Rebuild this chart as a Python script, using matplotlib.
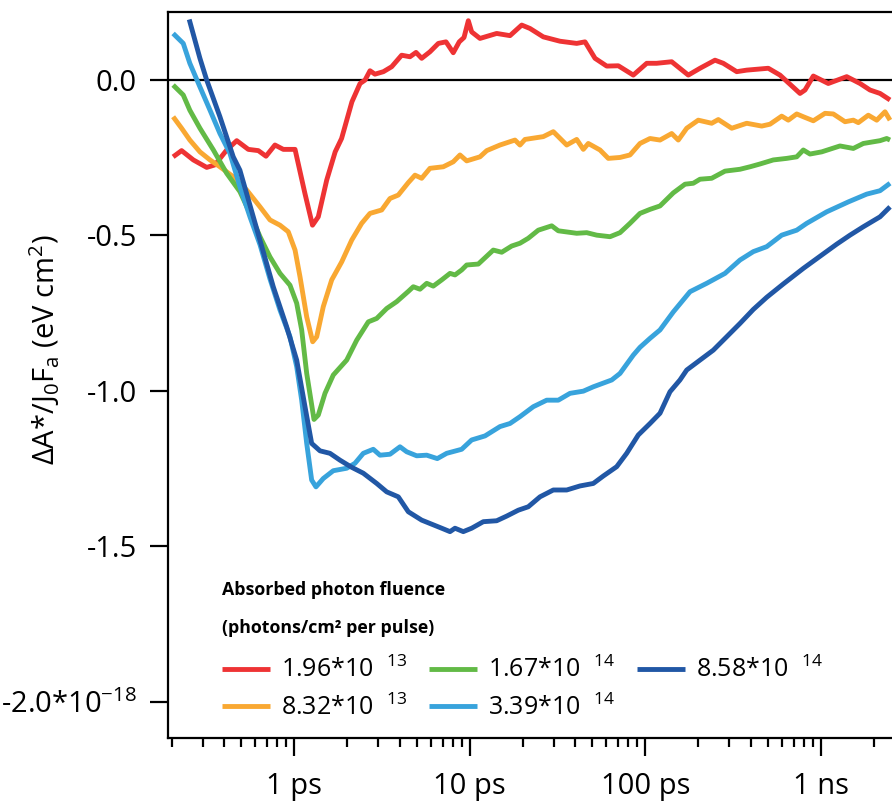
import matplotlib
matplotlib.use('Agg')
import matplotlib.pyplot as plt
from matplotlib.ticker import FixedLocator, NullFormatter

plt.rcParams['font.family'] = ['Open Sans', 'DejaVu Sans']
plt.rcParams['mathtext.fontset'] = 'custom'
plt.rcParams['mathtext.rm'] = 'Open Sans'
plt.rcParams['mathtext.it'] = 'Open Sans:italic'
plt.rcParams['mathtext.bf'] = 'Open Sans:bold'

# ---------------- data (time in ps, signal in units of 1e-18 eV cm^2) --------------
t_red = [0.204, 0.228, 0.266, 0.317, 0.353, 0.412, 0.470, 0.547, 0.624, 0.690, 0.776, 0.866,
         1.01, 1.15, 1.27, 1.37, 1.53, 1.71, 1.86, 2.13, 2.37, 2.53, 2.70, 2.88, 3.22, 3.59,
         4.09, 4.56, 4.94, 5.32, 5.93, 6.62, 7.32, 8.05, 8.71, 9.27, 9.81, 10.25, 11.43, 14.23,
         16.95, 19.76, 22.03, 26.23, 32.66, 40.65, 45.35, 51.70, 60.28, 70.20, 85.43, 101.9,
         116.1, 141.4, 175.8, 205.0, 249.6, 278.2, 331.8, 378.4, 502.3, 585.5, 761.2, 812.8,
         906.6, 1103, 1405, 1673, 1907, 2175, 2480]
v_red = [-0.247, -0.227, -0.257, -0.281, -0.273, -0.225, -0.195, -0.223, -0.227, -0.245, -0.209, -0.223,
         -0.223, -0.365, -0.467, -0.440, -0.322, -0.231, -0.188, -0.070, -0.011, 0.000, 0.030, 0.019, 0.027, 0.043,
         0.080, 0.075, 0.089, 0.070, 0.091, 0.118, 0.123, 0.088, 0.123, 0.137, 0.191, 0.155, 0.134, 0.150,
         0.143, 0.177, 0.166, 0.139, 0.125, 0.118, 0.123, 0.070, 0.045, 0.046, 0.016, 0.054,
         0.054, 0.059, 0.016, 0.038, 0.064, 0.054, 0.027, 0.032, 0.038, 0.016, -0.043, -0.032,
         0.013, -0.011, 0.011, -0.011, -0.032, -0.043, -0.064]

t_orange = [0.204, 0.228, 0.254, 0.290, 0.331, 0.377, 0.449, 0.536, 0.638, 0.727, 0.829, 0.924,
            1.01, 1.078, 1.177, 1.273, 1.342, 1.463, 1.634, 1.863, 2.124, 2.421, 2.70, 3.148,
            3.510, 3.914, 4.463, 4.873, 5.32, 5.93, 7.063, 8.05, 8.793, 9.602, 11.43, 12.49,
            14.86, 18.09, 19.32, 20.63, 26.23, 29.91, 35.67, 40.65, 44.35, 47.34, 55.21, 61.55,
            71.76, 81.80, 93.27, 106.4, 121.3, 141.4, 154.2, 172.2, 200.4, 238.9, 260.6, 310.8,
            378.4, 460.6, 513.5, 598.8, 652.9, 729.1, 795.0, 906.6, 1057, 1178, 1374, 1532,
            1636, 1865, 2083, 2322, 2480]
v_orange = [-0.118, -0.155, -0.193, -0.231, -0.257, -0.279, -0.311, -0.354, -0.408, -0.450, -0.467, -0.488,
            -0.547, -0.633, -0.762, -0.842, -0.826, -0.729, -0.643, -0.585, -0.515, -0.461, -0.429, -0.418,
            -0.381, -0.370, -0.330, -0.306, -0.316, -0.284, -0.279, -0.263, -0.241, -0.260, -0.247, -0.227,
            -0.209, -0.193, -0.209, -0.191, -0.182, -0.166, -0.209, -0.191, -0.223, -0.204, -0.225, -0.252,
            -0.249, -0.241, -0.204, -0.188, -0.193, -0.172, -0.193, -0.155, -0.129, -0.139, -0.127, -0.155,
            -0.139, -0.148, -0.142, -0.116, -0.129, -0.109, -0.118, -0.131, -0.107, -0.109, -0.134, -0.129,
            -0.137, -0.113, -0.129, -0.102, -0.129]

t_green = [0.204, 0.233, 0.254, 0.290, 0.346, 0.412, 0.490, 0.559, 0.638, 0.727, 0.829, 0.945,
           1.032, 1.102, 1.177, 1.295, 1.370, 1.496, 1.668, 1.989, 2.268, 2.641, 2.949, 3.362,
           3.832, 4.463, 4.766, 5.203, 5.682, 6.194, 6.918, 7.714, 8.236, 8.991, 9.602, 11.18,
           13.61, 15.20, 17.33, 19.32, 21.54, 24.57, 29.29, 31.94, 40.65, 46.37, 52.86, 62.96,
           71.76, 81.80, 93.27, 106.4, 121.3, 144.4, 168.4, 187.7, 205.0, 238.9, 284.5, 346.5,
           395.1, 450.4, 536.2, 639.2, 729.1, 795.0, 867.9, 1012, 1286, 1532, 1747, 2175, 2374, 2480]
v_green = [-0.016, -0.048, -0.097, -0.155, -0.225, -0.300, -0.359, -0.429, -0.504, -0.569, -0.622, -0.660,
           -0.718, -0.804, -0.944, -1.092, -1.078, -1.008, -0.949, -0.901, -0.837, -0.778, -0.767, -0.735,
           -0.713, -0.680, -0.665, -0.673, -0.654, -0.663, -0.643, -0.622, -0.627, -0.611, -0.595, -0.592,
           -0.547, -0.554, -0.534, -0.525, -0.509, -0.483, -0.469, -0.485, -0.493, -0.491, -0.499, -0.504,
           -0.491, -0.461, -0.429, -0.416, -0.405, -0.363, -0.335, -0.332, -0.319, -0.316, -0.293, -0.287,
           -0.279, -0.270, -0.257, -0.252, -0.247, -0.225, -0.238, -0.231, -0.212, -0.220, -0.204, -0.195, -0.188, -0.193]

t_lblue = [0.204, 0.233, 0.254, 0.290, 0.331, 0.377, 0.430, 0.490, 0.559, 0.638, 0.727, 0.829,
           0.945, 1.032, 1.102, 1.177, 1.256, 1.329, 1.463, 1.668, 1.989, 2.218, 2.473, 2.819,
           3.078, 3.510, 4.003, 4.370, 4.983, 5.682, 6.529, 7.386, 8.991, 10.25, 12.21, 14.86,
           16.95, 19.32, 23.01, 27.43, 31.94, 37.24, 44.35, 50.54, 64.38, 71.76, 85.43, 93.27,
           106.4, 121.3, 144.4, 179.8, 223.8, 284.5, 346.5, 412.6, 491.8, 598.8, 729.1, 831.1,
           1080, 1435, 1826, 2175, 2480]
v_lblue = [0.150, 0.118, 0.054, -0.022, -0.097, -0.172, -0.236, -0.343, -0.440, -0.530, -0.640, -0.740,
           -0.826, -0.922, -1.030, -1.169, -1.287, -1.309, -1.282, -1.257, -1.249, -1.233, -1.201, -1.188,
           -1.207, -1.204, -1.180, -1.196, -1.209, -1.207, -1.218, -1.201, -1.188, -1.158, -1.145, -1.115,
           -1.105, -1.083, -1.051, -1.030, -1.030, -1.008, -1.001, -0.987, -0.965, -0.944, -0.885, -0.860,
           -0.831, -0.804, -0.746, -0.681, -0.654, -0.622, -0.579, -0.552, -0.536, -0.499, -0.483, -0.461,
           -0.424, -0.392, -0.367, -0.356, -0.332]

t_dblue = [0.252, 0.290, 0.317, 0.377, 0.449, 0.490, 0.584, 0.759, 0.905, 1.032, 1.151, 1.256,
           1.401, 1.597, 1.821, 2.124, 2.473, 2.949, 3.362, 3.914, 4.463, 5.32, 6.066, 6.918,
           7.714, 8.236, 9.183, 10.25, 11.94, 14.23, 16.23, 18.90, 21.54, 25.12, 29.91, 35.67,
           42.46, 50.54, 57.65, 68.71, 78.34, 91.22, 106.4, 121.3, 138.2, 157.6, 172.2, 205.0,
           244.1, 290.9, 346.5, 412.6, 491.8, 611.5, 795.0, 1012, 1232, 1467, 1747, 2175, 2480]
v_dblue = [0.195, 0.070, 0.000, -0.118, -0.247, -0.290, -0.440, -0.665, -0.794, -0.901, -1.051, -1.169,
           -1.193, -1.201, -1.223, -1.246, -1.265, -1.298, -1.325, -1.341, -1.389, -1.416, -1.429, -1.442,
           -1.453, -1.442, -1.453, -1.442, -1.421, -1.418, -1.403, -1.384, -1.373, -1.341, -1.319, -1.319,
           -1.306, -1.298, -1.274, -1.244, -1.201, -1.142, -1.105, -1.072, -1.003, -0.965, -0.933, -0.901,
           -0.869, -0.826, -0.783, -0.738, -0.699, -0.656, -0.606, -0.563, -0.528, -0.499, -0.472, -0.440, -0.408]

series_labels = ['1.96*10  $^{13}$', '8.32*10  $^{13}$', '1.67*10  $^{14}$', '3.39*10  $^{14}$', '8.58*10  $^{14}$']
series_colors = ['#EE3334', '#F9A832', '#62BA46', '#38A3DC', '#2157A5']

x_tick_values = [1, 10, 100, 1000]
x_tick_labels = ['1 ps', '10 ps', '100 ps', '1 ns']
y_tick_values = [0.0, -0.5, -1.0, -1.5, -2.0]
y_tick_labels = ['0.0', '-0.5', '-1.0', '-1.5', '-2.0*10$^{-18}$']

# ---------------- figure ----------------
W, H = 892, 805
fig = plt.figure(figsize=(W / 100, H / 100), dpi=100)
L, R, T, B = 167.5, 892, 11.7, 738.3
ax = fig.add_axes([L / W, 1 - B / H, (R - L) / W, (B - T) / H])

ax.axhline(0, color='black', lw=1.6, zorder=1)
data = [(t_red, v_red), (t_orange, v_orange), (t_green, v_green), (t_lblue, v_lblue), (t_dblue, v_dblue)]
handles = []
for (tt, vv), c, lab in zip(data, series_colors, series_labels):
    ln, = ax.plot(tt, vv, color=c, lw=3.5, solid_joinstyle='round', solid_capstyle='butt', zorder=3, label=lab)
    handles.append(ln)

ax.set_xscale('log')
ax.set_xlim(0.1895, 2545)
ax.set_ylim(-2.118, 0.22)

ax.xaxis.set_major_locator(FixedLocator(x_tick_values))
ax.set_xticklabels(x_tick_labels)
minor = [m * 10.0 ** e for e in range(-1, 4) for m in range(2, 10)]
ax.xaxis.set_minor_locator(FixedLocator(minor))
ax.xaxis.set_minor_formatter(NullFormatter())
ax.set_yticks(y_tick_values)
ax.set_yticklabels(y_tick_labels)

ax.tick_params(axis='both', which='major', direction='out', width=1.6, length=13, labelsize=21, pad=9, color='black')
ax.tick_params(axis='x', which='minor', direction='out', width=1.6, length=6.5)
ax.tick_params(axis='x', which='major', pad=11)
ax.tick_params(top=False, right=False, which='both')

for s in ['left', 'top', 'bottom']:
    ax.spines[s].set_linewidth(1.6)
ax.spines['right'].set_visible(False)

fig.text(45 / W, 1 - 350 / H, r'ΔA*/J$_0$F$_\mathrm{a}$ (eV cm$^2$)', rotation=90, ha='center', va='center', fontsize=21)

title_font = ['Liberation Sans Narrow', 'Open Sans']
fig.text(222 / W, 1 - 590 / H, 'Absorbed photon fluence', fontsize=12.8, fontweight='bold',
         family=title_font, ha='left', va='center')
fig.text(222 / W, 1 - 628 / H, '(photons/cm² per pulse)', fontsize=12.8, fontweight='bold',
         family=title_font, ha='left', va='center')

leg = ax.legend(handles=handles, ncol=3, frameon=False, loc='upper left',
                bbox_to_anchor=(222 / W, 1 - 657 / H), bbox_transform=fig.transFigure,
                fontsize=18, handlelength=1.9, handletextpad=0.45, columnspacing=0.9,
                labelspacing=0.45, borderaxespad=0, borderpad=0)

fig.savefig('out.png', dpi=100)
